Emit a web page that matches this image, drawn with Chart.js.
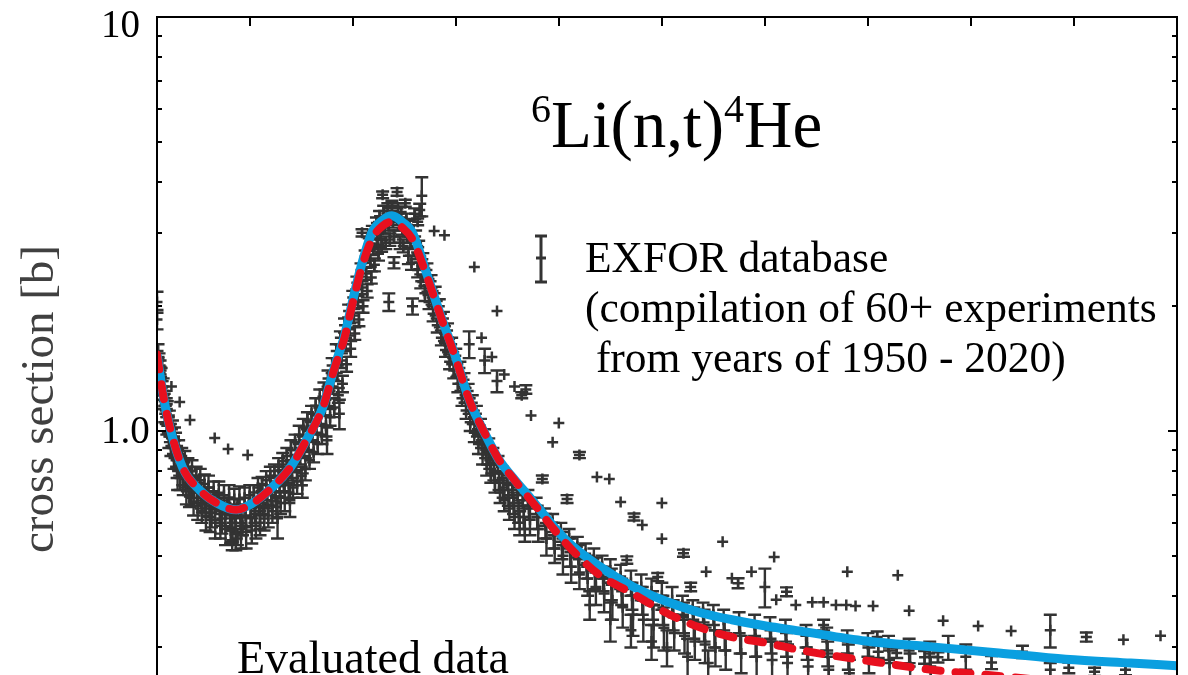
<!DOCTYPE html>
<html lang="en">
<head>
<meta charset="utf-8"/>
<style>
  html, body { margin: 0; padding: 0; background: #fff; overflow: hidden; }
  #wrap { width: 1188px; height: 900px; }
</style>
</head>
<body>
<div id="wrap"><canvas id="xsChart" width="1188" height="900"></canvas></div>

<script src="https://cdn.jsdelivr.net/npm/chart.js"></script>
<script>
  // neutron energy [MeV] where the two evaluations are tabulated
  const evalE = [0.010, 0.016, 0.0225, 0.035, 0.0514, 0.068, 0.087, 0.103, 0.119, 0.139, 0.155, 0.171,
    0.182, 0.192, 0.200, 0.209, 0.219, 0.229, 0.238, 0.248, 0.258, 0.272, 0.287, 0.299, 0.313, 0.330,
    0.342, 0.355, 0.374, 0.407, 0.439, 0.471, 0.504, 0.536, 0.568, 0.601, 0.633, 0.698, 0.762, 0.827,
    0.892, 0.955, 1.0];
  // solid blue evaluation [b]
  const evalBlue = [1.53, 1.22, 1.02, 0.814, 0.72, 0.67, 0.645, 0.67, 0.72, 0.814, 0.951, 1.143,
    1.42, 1.70, 2.07, 2.545, 3.03, 3.23, 3.31, 3.20, 3.01, 2.39, 1.85, 1.53, 1.19, 0.967,
    0.851, 0.774, 0.681, 0.545, 0.472, 0.422, 0.388, 0.365, 0.350, 0.338, 0.329, 0.311, 0.301, 0.291,
    0.281, 0.275, 0.271];
  // dashed red evaluation [b]
  const evalRed = [1.53, 1.22, 1.02, 0.814, 0.72, 0.67, 0.645, 0.67, 0.72, 0.814, 0.951, 1.14,
    1.41, 1.68, 2.04, 2.50, 2.92, 3.13, 3.20, 3.10, 2.90, 2.36, 1.84, 1.52, 1.19, 0.967,
    0.851, 0.772, 0.675, 0.535, 0.450, 0.406, 0.364, 0.336, 0.318, 0.308, 0.296, 0.279, 0.265, 0.256,
    0.247, 0.239, 0.235];

  // EXFOR points: [energy MeV, cross section b, error b]
  const expLow = [
    [0.010,2.05,0.12],[0.010,1.86,0.10],[0.011,1.56,0.06],[0.011,1.46,0.05],
    [0.012,1.48,0.06],[0.013,1.38,0.05],[0.0135,1.29,0.06],[0.013,1.44,0.04],
    [0.014,1.37,0.05],[0.015,1.27,0.05],[0.0155,1.19,0.06],
    [0.016,1.28,0.06],[0.017,1.18,0.05],[0.0175,1.10,0.05],
    [0.018,1.20,0.05],[0.019,1.10,0.06],[0.0195,1.03,0.05],[0.019,1.16,0.04],
    [0.020,1.13,0.05],[0.021,1.04,0.05],[0.0215,0.97,0.06],
    [0.022,1.08,0.04],[0.023,0.99,0.05],[0.0235,0.92,0.05],[0.024,1.28,0],
    [0.025,1.01,0.05],[0.026,0.92,0.04],[0.0265,0.86,0.05],[0.027,0.97,0.05],
    [0.028,0.95,0.04],[0.029,0.87,0.05],[0.0295,0.81,0.04],[0.030,0.80,0.08],
    [0.031,0.90,0.05],[0.032,0.82,0.04],[0.0325,0.77,0.05],[0.032,1.175,0],
    [0.034,0.87,0.04],[0.035,0.79,0.05],[0.0355,0.74,0.04],[0.036,0.81,0.03],
    [0.037,0.845,0.05],[0.038,0.77,0.04],[0.0385,0.715,0.05],
    [0.040,0.82,0.04],[0.041,0.75,0.05],[0.0415,0.695,0.04],[0.042,1.063,0],[0.043,0.72,0.06],
    [0.044,0.80,0.05],[0.045,0.73,0.04],[0.0455,0.675,0.05],[0.047,0.745,0.03],
    [0.048,0.78,0.04],[0.049,0.71,0.04],[0.0495,0.66,0.05],
    [0.052,0.76,0.05],[0.053,0.69,0.04],[0.0535,0.64,0.04],[0.054,0.665,0.03],
    [0.056,0.745,0.04],[0.057,0.675,0.04],[0.0575,0.625,0.05],[0.058,0.70,0.03],
    [0.060,0.73,0.05],[0.061,0.66,0.04],[0.0615,0.61,0.04],[0.063,0.635,0.05],
    [0.065,0.715,0.04],[0.066,0.65,0.04],[0.0665,0.60,0.05],[0.066,0.962,0],[0.068,0.68,0.03],
    [0.070,0.705,0.05],[0.071,0.64,0.04],[0.0715,0.59,0.04],[0.073,0.615,0.05],
    [0.075,0.70,0.04],[0.076,0.63,0.04],[0.0765,0.58,0.05],[0.078,0.66,0.03],[0.079,0.905,0],
    [0.080,0.69,0.05],[0.081,0.625,0.04],[0.0815,0.575,0.04],[0.083,0.60,0.06],[0.083,0.545,0.03],
    [0.085,0.685,0.04],[0.086,0.62,0.04],[0.0865,0.565,0.05],[0.088,0.655,0.03],[0.088,0.55,0.02],
    [0.090,0.685,0.05],[0.091,0.62,0.04],[0.0915,0.56,0.04],[0.093,0.59,0.03],
    [0.095,0.69,0.04],[0.096,0.625,0.04],[0.0965,0.57,0.05],[0.098,0.875,0]
  ];
  const expRise = [
    [0.100,0.70,0.04],[0.101,0.62,0.03],[0.102,0.575,0.04],
    [0.104,0.71,0.03],[0.105,0.64,0.04],[0.106,0.59,0.04],
    [0.108,0.73,0.04],[0.109,0.655,0.03],[0.110,0.60,0.04],[0.110,0.66,0.08],
    [0.112,0.745,0.03],[0.113,0.67,0.04],[0.114,0.615,0.04],
    [0.116,0.76,0.04],[0.117,0.68,0.03],[0.118,0.625,0.04],
    [0.120,0.78,0.04],[0.121,0.70,0.04],[0.122,0.64,0.04],
    [0.124,0.80,0.03],[0.125,0.715,0.04],[0.126,0.655,0.04],[0.127,0.62,0.07],
    [0.128,0.82,0.04],[0.129,0.735,0.04],[0.130,0.67,0.04],
    [0.132,0.845,0.04],[0.133,0.755,0.04],[0.134,0.69,0.05],
    [0.136,0.87,0.04],[0.137,0.78,0.04],[0.138,0.71,0.04],[0.139,0.68,0.06],
    [0.140,0.90,0.05],[0.141,0.80,0.04],[0.142,0.73,0.04],
    [0.144,0.94,0.04],[0.145,0.835,0.04],[0.146,0.755,0.05],
    [0.148,0.98,0.05],[0.149,0.87,0.04],[0.150,0.78,0.04],[0.151,0.74,0.05],
    [0.152,1.02,0.05],[0.153,0.91,0.04],[0.154,0.81,0.05],
    [0.156,1.06,0.05],[0.157,0.95,0.05],[0.158,0.85,0.04],
    [0.160,1.10,0.05],[0.161,0.99,0.04],[0.162,0.89,0.05],
    [0.164,1.15,0.05],[0.165,1.04,0.05],[0.166,0.93,0.05],
    [0.168,1.20,0.06],[0.169,1.09,0.05],[0.170,0.98,0.05],
    [0.172,1.26,0.05],[0.173,1.14,0.05],[0.174,1.03,0.06],[0.175,0.95,0.07],
    [0.176,1.34,0.06],[0.177,1.20,0.05],[0.178,1.08,0.05],
    [0.180,1.44,0.06],[0.181,1.28,0.05],[0.182,1.14,0.06],
    [0.184,1.56,0.06],[0.185,1.38,0.06],[0.186,1.22,0.05],[0.187,1.10,0.09],
    [0.188,1.68,0.06],[0.189,1.48,0.06],[0.190,1.30,0.06]
  ];
  const expPeak = [
    [0.192,1.80,0.07],[0.193,1.62,0.06],[0.194,1.45,0.06],
    [0.196,1.95,0.07],[0.197,1.76,0.06],[0.198,1.58,0.07],
    [0.200,2.10,0.08],[0.201,1.90,0.07],[0.202,1.72,0.06],
    [0.204,2.28,0.08],[0.205,2.05,0.07],[0.206,1.86,0.07],
    [0.208,2.45,0.09],[0.209,2.22,0.08],[0.210,2.00,0.07],[0.209,3.01,0.06],
    [0.212,2.64,0.09],[0.213,2.40,0.08],[0.214,2.18,0.08],
    [0.216,2.82,0.10],[0.217,2.58,0.09],[0.218,2.35,0.08],
    [0.219,3.05,0.08],[0.220,2.75,0.09],[0.221,2.52,0.09],
    [0.223,3.18,0.10],[0.224,2.90,0.09],[0.225,2.68,0.10],
    [0.226,3.30,0.10],[0.227,3.02,0.10],[0.228,2.80,0.09],
    [0.229,3.72,0.07],[0.230,3.40,0.10],[0.231,3.10,0.10],[0.232,2.85,0.10],
    [0.234,3.45,0.10],[0.235,3.15,0.10],[0.236,2.90,0.10],[0.235,2.05,0.10],
    [0.238,3.50,0.10],[0.239,3.20,0.10],[0.240,2.95,0.10],[0.240,2.55,0.08],
    [0.243,3.78,0.08],[0.244,3.45,0.10],[0.245,3.15,0.10],[0.246,2.85,0.10],
    [0.247,3.38,0.10],[0.248,3.08,0.10],[0.249,2.80,0.10],
    [0.251,3.55,0.07],[0.252,3.25,0.10],[0.253,2.95,0.10],[0.254,2.65,0.12],
    [0.255,3.12,0.10],[0.256,2.85,0.10],[0.257,2.55,0.10],[0.258,2.00,0.09],
    [0.260,3.35,0.10],[0.261,2.95,0.10],[0.262,2.70,0.10],[0.263,2.45,0.10],[0.263,3.20,0.06],
    [0.264,2.78,0.10],[0.265,2.55,0.09],[0.266,2.30,0.09],[0.265,3.42,0.12],[0.267,3.70,0.40],
    [0.268,2.60,0.09],[0.269,2.38,0.09],[0.270,2.15,0.09],
    [0.272,2.45,0.09],[0.273,2.25,0.08],[0.274,2.05,0.08],
    [0.276,2.30,0.08],[0.277,2.10,0.08],[0.278,1.92,0.08],[0.279,3.04,0],
    [0.280,2.15,0.08],[0.281,1.98,0.08],[0.282,1.80,0.07],
    [0.284,2.00,0.08],[0.285,1.85,0.07],[0.286,1.68,0.07],
    [0.288,1.87,0.07],[0.289,1.72,0.07],[0.290,1.57,0.06],[0.289,2.97,0],
    [0.292,1.75,0.07],[0.293,1.61,0.06],[0.294,1.47,0.06]
  ];
  const expFall = [
    [0.296,1.62,0.06],[0.297,1.50,0.05],[0.298,1.40,0.06],
    [0.300,1.52,0.06],[0.301,1.40,0.05],[0.302,1.30,0.06],
    [0.304,1.42,0.05],[0.305,1.30,0.05],[0.306,1.20,0.05],
    [0.308,1.33,0.05],[0.309,1.22,0.05],[0.310,1.12,0.05],
    [0.312,1.25,0.05],[0.313,1.15,0.05],[0.314,1.05,0.05],[0.313,1.62,0.12],
    [0.316,1.17,0.05],[0.317,1.08,0.04],[0.318,0.99,0.05],[0.318,2.49,0],
    [0.320,1.10,0.05],[0.321,1.01,0.04],[0.322,0.93,0.05],
    [0.324,1.03,0.04],[0.325,0.95,0.04],[0.326,0.88,0.05],[0.325,1.68,0],
    [0.328,0.97,0.04],[0.329,0.90,0.04],[0.330,0.83,0.05],[0.328,1.48,0.10],
    [0.332,0.92,0.04],[0.333,0.85,0.04],[0.334,0.79,0.04],[0.335,1.51,0],
    [0.336,0.87,0.04],[0.337,0.80,0.04],[0.338,0.75,0.04],
    [0.340,1.95,0],[0.340,1.32,0.08],
    [0.341,0.83,0.04],[0.342,0.76,0.04],[0.343,0.71,0.04],
    [0.345,0.79,0.03],[0.346,0.73,0.04],[0.347,0.68,0.04],[0.347,1.37,0],
    [0.350,0.75,0.03],[0.351,0.70,0.04],[0.352,0.65,0.04],
    [0.355,0.72,0.03],[0.356,0.67,0.04],[0.357,0.62,0.04],[0.357,1.28,0],
    [0.360,0.70,0.03],[0.361,0.64,0.04],[0.362,0.60,0.04],
    [0.364,1.22,0.02],[0.368,1.26,0.03],
    [0.365,0.68,0.03],[0.366,0.62,0.04],[0.367,0.58,0.04],[0.373,1.09,0]
  ];
  const expTail = [
    [0.370,0.69,0.03],[0.371,0.65,0.04],[0.372,0.61,0.05],
    [0.378,0.66,0.03],[0.379,0.62,0.04],[0.380,0.58,0.04],[0.384,0.766,0.015],
    [0.386,0.62,0.03],[0.387,0.59,0.04],[0.388,0.55,0.05],[0.394,0.94,0],
    [0.394,0.60,0.03],[0.395,0.56,0.04],[0.396,0.52,0.04],[0.400,1.045,0],
    [0.402,0.57,0.03],[0.403,0.53,0.04],[0.404,0.50,0.05],[0.408,0.685,0.015],
    [0.410,0.55,0.03],[0.411,0.51,0.04],[0.412,0.47,0.04],
    [0.418,0.525,0.03],[0.419,0.49,0.04],[0.420,0.455,0.04],[0.420,0.875,0.015],
    [0.426,0.505,0.03],[0.427,0.47,0.03],[0.428,0.44,0.04],[0.430,0.38,0.03],
    [0.434,0.49,0.03],[0.435,0.455,0.04],[0.436,0.42,0.04],[0.437,0.774,0],
    [0.442,0.47,0.03],[0.443,0.44,0.03],[0.444,0.405,0.04],[0.449,0.766,0],
    [0.450,0.46,0.03],[0.451,0.425,0.04],[0.452,0.39,0.04],[0.450,0.35,0.04],
    [0.460,0.445,0.03],[0.461,0.41,0.03],[0.462,0.375,0.04],[0.460,0.674,0],[0.466,0.488,0.01],
    [0.470,0.43,0.03],[0.471,0.40,0.03],[0.472,0.36,0.04],[0.470,0.33,0.03],
    [0.473,0.62,0.012],[0.481,0.593,0],
    [0.480,0.42,0.03],[0.481,0.39,0.03],[0.482,0.35,0.04],
    [0.490,0.41,0.03],[0.491,0.38,0.03],[0.492,0.34,0.04],[0.490,0.31,0.03],[0.496,0.444,0.01],
    [0.500,0.40,0.03],[0.501,0.37,0.03],[0.502,0.335,0.04],[0.500,0.670,0],[0.500,0.549,0],
    [0.505,0.30,0.03],
    [0.510,0.39,0.03],[0.511,0.36,0.03],[0.512,0.325,0.03],[0.521,0.507,0.01],
    [0.520,0.38,0.02],[0.521,0.355,0.03],[0.522,0.32,0.03],[0.525,0.285,0.03],[0.528,0.42,0.01],
    [0.530,0.37,0.02],[0.531,0.345,0.03],[0.532,0.31,0.03],[0.543,0.457,0],
    [0.540,0.365,0.02],[0.541,0.34,0.03],[0.542,0.305,0.03],[0.545,0.275,0.02],
    [0.550,0.36,0.02],[0.551,0.33,0.03],[0.552,0.30,0.03],[0.559,0.540,0],
    [0.560,0.35,0.02],[0.561,0.325,0.03],[0.562,0.295,0.03],[0.568,0.441,0],[0.574,0.429,0.012],
    [0.575,0.345,0.02],[0.576,0.32,0.03],[0.577,0.29,0.03],[0.587,0.457,0],
    [0.590,0.34,0.02],[0.591,0.315,0.03],[0.592,0.285,0.03],[0.600,0.42,0.045],
    [0.605,0.335,0.02],[0.606,0.31,0.02],[0.607,0.28,0.03],[0.609,0.496,0],[0.611,0.391,0],
    [0.620,0.33,0.02],[0.621,0.305,0.02],[0.622,0.275,0.03],[0.621,0.409,0.01],[0.630,0.380,0],
    [0.640,0.32,0.02],[0.641,0.30,0.02],[0.642,0.27,0.02],
    [0.646,0.386,0],[0.657,0.386,0],[0.657,0.34,0.01],
    [0.660,0.315,0.02],[0.661,0.29,0.02],[0.662,0.265,0.02],
    [0.669,0.380,0],[0.679,0.380,0],[0.680,0.457,0],[0.688,0.378,0],
    [0.680,0.31,0.02],[0.681,0.285,0.02],[0.682,0.26,0.02],
    [0.700,0.305,0.02],[0.701,0.28,0.02],[0.705,0.378,0],[0.709,0.318,0.01],[0.710,0.293,0.01],
    [0.720,0.30,0.02],[0.721,0.275,0.02],[0.728,0.291,0.008],[0.729,0.448,0],
    [0.740,0.295,0.02],[0.741,0.27,0.02],[0.740,0.368,0],[0.755,0.284,0.01],
    [0.760,0.29,0.02],[0.761,0.265,0.02],[0.768,0.284,0.008],
    [0.773,0.348,0],[0.778,0.30,0.02],[0.795,0.285,0.02],[0.807,0.338,0],
    [0.820,0.276,0.01],[0.839,0.329,0],[0.850,0.293,0.01],
    [0.877,0.33,0.03],[0.877,0.265,0.01],[0.895,0.268,0.008],[0.912,0.318,0.008],
    [0.920,0.262,0.006],[0.948,0.313,0],[0.950,0.265,0.008],[0.984,0.320,0]
  ];
  const allExp = expLow.concat(expRise, expPeak, expFall, expTail);

  // axis decorations
  const xTopTicks = [0.1, 0.2, 0.3, 0.4, 0.5, 0.6, 0.7, 0.8, 0.9];
  const yMajor = [1, 10];
  const yMinor = [0.2, 0.3, 0.4, 0.5, 0.6, 0.7, 0.8, 0.9, 2, 3, 4, 5, 6, 7, 8, 9];
  const yLabels = [[10, "10"], [1, "1.0"]];
  const legendLines = ["EXFOR database", "(compilation of 60+ experiments", " from years of 1950 - 2020)"];

  const serif = "'Liberation Serif', 'DejaVu Serif', serif";
  const barColor = "#333333";

  const decorations = {
    id: "decorations",
    beforeDatasetsDraw(chart) {
      const { ctx, chartArea: a, scales: { x, y } } = chart;
      ctx.save();
      ctx.beginPath();
      ctx.rect(a.left, a.top, a.right - a.left, a.bottom - a.top);
      ctx.clip();
      ctx.strokeStyle = barColor;
      ctx.lineWidth = 2.4;
      allExp.forEach(([e, s, err]) => {
        if (!err) return;
        const px = x.getPixelForValue(e);
        const y1 = y.getPixelForValue(s + err);
        const y2 = y.getPixelForValue(s - err);
        ctx.beginPath();
        ctx.moveTo(px, y1); ctx.lineTo(px, y2);
        ctx.moveTo(px - 6.5, y1); ctx.lineTo(px + 6.5, y1);
        ctx.moveTo(px - 6.5, y2); ctx.lineTo(px + 6.5, y2);
        ctx.stroke();
      });
      ctx.restore();
    },
    afterDraw(chart) {
      const { ctx, chartArea: a, scales: { x, y } } = chart;
      ctx.save();

      // box and inward ticks
      ctx.strokeStyle = "#000";
      ctx.lineWidth = 2;
      ctx.strokeRect(a.left, a.top, a.right - a.left, a.bottom - a.top);
      ctx.beginPath();
      xTopTicks.forEach(v => {
        const px = Math.round(x.getPixelForValue(v));
        ctx.moveTo(px, a.top); ctx.lineTo(px, a.top + 9);
      });
      yMinor.forEach(v => {
        const py = Math.round(y.getPixelForValue(v));
        ctx.moveTo(a.left, py); ctx.lineTo(a.left + 5, py);
        ctx.moveTo(a.right, py); ctx.lineTo(a.right - 5, py);
      });
      yMajor.forEach(v => {
        const py = Math.round(y.getPixelForValue(v));
        ctx.moveTo(a.left, py); ctx.lineTo(a.left + 9, py);
        ctx.moveTo(a.right, py); ctx.lineTo(a.right - 9, py);
      });
      ctx.stroke();

      // y tick labels
      ctx.fillStyle = "#000";
      ctx.font = "39px " + serif;
      ctx.textAlign = "left";
      ctx.textBaseline = "alphabetic";
      yLabels.forEach(([v, t]) => {
        const py = y.getPixelForValue(v);
        ctx.fillText(t, 101, py + (v === 10 ? 20 : 12));
      });

      // y axis title
      ctx.save();
      ctx.translate(53, 399);
      ctx.rotate(-Math.PI / 2);
      ctx.fillStyle = "#404040";
      ctx.font = "47px " + serif;
      ctx.textAlign = "center";
      ctx.fillText("cross section [b]", 0, 0);
      ctx.restore();

      // reaction label with superscripts
      let tx = 531;
      const base = 147;
      const parts = [["6", true], ["Li(n,t)", false], ["4", true], ["He", false]];
      parts.forEach(([t, sup]) => {
        ctx.font = (sup ? "40px " : "67px ") + serif;
        ctx.fillText(t, tx, sup ? base - 25 : base);
        tx += ctx.measureText(t).width;
      });

      // legend for the experimental data
      ctx.strokeStyle = barColor;
      ctx.lineWidth = 3;
      ctx.beginPath();
      ctx.moveTo(541, 236); ctx.lineTo(541, 282);
      ctx.moveTo(535, 236); ctx.lineTo(547, 236);
      ctx.moveTo(535, 282); ctx.lineTo(547, 282);
      ctx.moveTo(536, 258); ctx.lineTo(546, 258);
      ctx.stroke();
      ctx.font = "43.5px " + serif;
      legendLines.forEach((t, i) => ctx.fillText(t, 585, 272 + i * 50));

      ctx.font = "46px " + serif;
      ctx.fillText("Evaluated data", 237, 673);
      ctx.restore();
    }
  };

  const toPts = ys => evalE.map((e, i) => ({ x: e, y: ys[i] }));

  new Chart(document.getElementById("xsChart"), {
    type: "scatter",
    data: {
      datasets: [
        {
          type: "line",
          data: toPts(evalRed),
          borderColor: "#e8101e",
          borderWidth: 8,
          borderDash: [15, 15],
          borderCapStyle: "round",
          pointRadius: 0,
          fill: false,
          cubicInterpolationMode: "monotone"
        },
        {
          type: "line",
          data: toPts(evalBlue),
          borderColor: "#0a9fe0",
          borderWidth: 9,
          pointRadius: 0,
          fill: false,
          cubicInterpolationMode: "monotone"
        },
        {
          data: allExp.map(([e, s]) => ({ x: e, y: s })),
          pointStyle: "cross",
          pointRadius: 5.5,
          pointBorderWidth: 2.5,
          borderColor: barColor,
          backgroundColor: barColor,
          showLine: false
        }
      ]
    },
    options: {
      responsive: false,
      animation: false,
      devicePixelRatio: 1,
      layout: { padding: { left: 157, top: 17, right: 11, bottom: 55 } },
      plugins: { legend: { display: false }, tooltip: { enabled: false } },
      scales: {
        x: { type: "linear", min: 0.01, max: 1.0, display: false },
        y: { type: "logarithmic", min: 0.1, max: 10, display: false }
      }
    },
    plugins: [decorations]
  });
</script>
</body>
</html>
